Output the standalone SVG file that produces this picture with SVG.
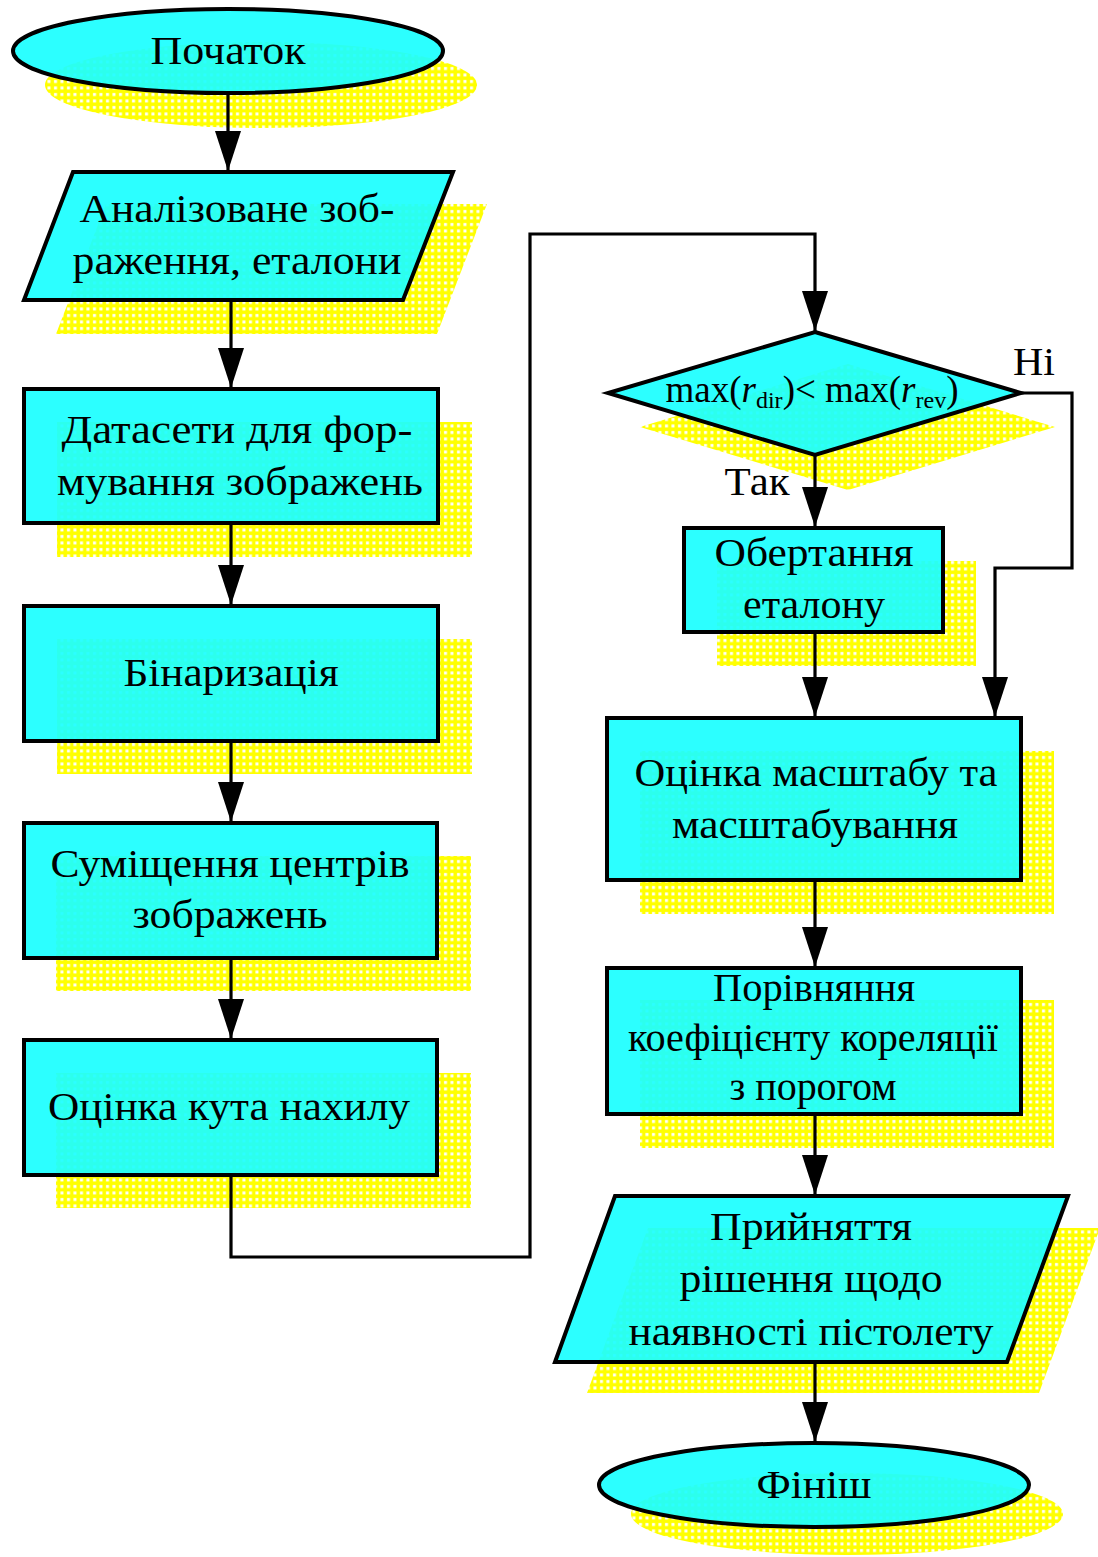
<svg xmlns="http://www.w3.org/2000/svg" width="1098" height="1557" viewBox="0 0 1098 1557">
  <defs>
    <pattern id="dots" width="6.5" height="6.5" patternUnits="userSpaceOnUse">
      <rect width="6.5" height="6.5" fill="#FFFF00"/>
      <rect x="2" y="2" width="3" height="3" fill="#FFFFFF"/>
    </pattern>
    <marker id="arrow" viewBox="0 0 40 26" refX="40" refY="13" markerWidth="40" markerHeight="26" markerUnits="userSpaceOnUse" orient="auto">
      <path d="M0,0 L40,13 L0,26 Z" fill="#000"/>
    </marker>
  </defs>
  <style>
    .shadow { fill: url(#dots); stroke: none; }
    .box { fill: #1CFFFF; fill-opacity: 0.93; stroke: #000; stroke-width: 4; stroke-linejoin: miter; }
    .lbl { font-family: "Liberation Serif", "DejaVu Serif", serif; font-size: 40px; fill: #000; text-anchor: middle; }
    .math { font-size: 37px; }
    .wire { fill: none; stroke: #000; stroke-width: 3.2; }
  </style>

  <rect width="1098" height="1557" fill="#FFFFFF"/>

  <!-- Left column -->
  <g id="start">
    <ellipse class="shadow" cx="261" cy="85" rx="216" ry="43"/>
    <ellipse class="box" cx="228" cy="51" rx="215" ry="42"/>
    <text class="lbl" x="228" y="64" textLength="155" lengthAdjust="spacingAndGlyphs">Початок</text>
  </g>

  <g id="input-images">
    <polygon class="shadow" points="106,204 487,204 437,334 56,334"/>
    <polygon class="box" points="73,172 453,172 403,300 24,300"/>
    <text class="lbl" x="237" y="222" textLength="315" lengthAdjust="spacingAndGlyphs">Аналізоване зоб-</text>
    <text class="lbl" x="237" y="274" textLength="329" lengthAdjust="spacingAndGlyphs">раження, еталони</text>
  </g>

  <g id="datasets">
    <rect class="shadow" x="57" y="422" width="415" height="135"/>
    <rect class="box" x="24" y="389" width="414" height="134"/>
    <text class="lbl" x="237" y="443" textLength="351" lengthAdjust="spacingAndGlyphs">Датасети для фор-</text>
    <text class="lbl" x="240" y="495" textLength="366" lengthAdjust="spacingAndGlyphs">мування зображень</text>
  </g>

  <g id="binarization">
    <rect class="shadow" x="57" y="639" width="415" height="135"/>
    <rect class="box" x="24" y="606" width="414" height="135"/>
    <text class="lbl" x="231" y="686" textLength="215" lengthAdjust="spacingAndGlyphs">Бінаризація</text>
  </g>

  <g id="center-align">
    <rect class="shadow" x="56" y="856" width="415" height="135"/>
    <rect class="box" x="24" y="823" width="413" height="135"/>
    <text class="lbl" x="230" y="877" textLength="359" lengthAdjust="spacingAndGlyphs">Суміщення центрів</text>
    <text class="lbl" x="230" y="928" textLength="195" lengthAdjust="spacingAndGlyphs">зображень</text>
  </g>

  <g id="tilt-angle">
    <rect class="shadow" x="56" y="1073" width="415" height="135"/>
    <rect class="box" x="24" y="1040" width="413" height="135"/>
    <text class="lbl" x="229" y="1120" textLength="362" lengthAdjust="spacingAndGlyphs">Оцінка кута нахилу</text>
  </g>

  <!-- Right column -->
  <g id="decision">
    <polygon class="shadow" points="848,364 1055,427 848,490 640,427"/>
    <polygon class="box" points="815,332 1021,393 815,455 608,393"/>
    <text class="lbl math" x="812" y="402">max(<tspan font-style="italic">r</tspan><tspan font-size="24px" dy="6">dir</tspan><tspan dy="-6">)&lt; max(</tspan><tspan font-style="italic">r</tspan><tspan font-size="24px" dy="6">rev</tspan><tspan dy="-6">)</tspan></text>
  </g>

  <g id="rotate-template">
    <rect class="shadow" x="717" y="561" width="259" height="105"/>
    <rect class="box" x="684" y="528" width="259" height="104"/>
    <text class="lbl" x="814" y="566" textLength="199" lengthAdjust="spacingAndGlyphs">Обертання</text>
    <text class="lbl" x="814" y="618" textLength="142" lengthAdjust="spacingAndGlyphs">еталону</text>
  </g>

  <g id="scaling">
    <rect class="shadow" x="640" y="751" width="414" height="163"/>
    <rect class="box" x="607" y="718" width="414" height="162"/>
    <text class="lbl" x="816" y="786" textLength="363" lengthAdjust="spacingAndGlyphs">Оцінка масштабу та</text>
    <text class="lbl" x="815" y="838" textLength="286" lengthAdjust="spacingAndGlyphs">масштабування</text>
  </g>

  <g id="correlation">
    <rect class="shadow" x="640" y="1000" width="414" height="148"/>
    <rect class="box" x="607" y="968" width="414" height="146"/>
    <text class="lbl" x="814" y="1001" textLength="202" lengthAdjust="spacingAndGlyphs">Порівняння</text>
    <text class="lbl" x="813" y="1051" textLength="370" lengthAdjust="spacingAndGlyphs">коефіцієнту кореляції</text>
    <text class="lbl" x="813" y="1100" textLength="167" lengthAdjust="spacingAndGlyphs">з порогом</text>
  </g>

  <g id="decision-output">
    <polygon class="shadow" points="648,1228 1100,1228 1039,1393 587,1393"/>
    <polygon class="box" points="615,1196 1068,1196 1007,1362 555,1362"/>
    <text class="lbl" x="811" y="1240" textLength="202" lengthAdjust="spacingAndGlyphs">Прийняття</text>
    <text class="lbl" x="811" y="1292" textLength="263" lengthAdjust="spacingAndGlyphs">рішення щодо</text>
    <text class="lbl" x="811" y="1345" textLength="365" lengthAdjust="spacingAndGlyphs">наявності пістолету</text>
  </g>

  <g id="finish">
    <ellipse class="shadow" cx="847" cy="1514" rx="216" ry="41"/>
    <ellipse class="box" cx="814" cy="1485" rx="215" ry="42"/>
    <text class="lbl" x="814" y="1498" textLength="115" lengthAdjust="spacingAndGlyphs">Фініш</text>
  </g>

  <!-- Connectors -->
  <g id="connectors">
    <line class="wire" x1="228" y1="94" x2="228" y2="171" marker-end="url(#arrow)"/>
    <line class="wire" x1="231" y1="300" x2="231" y2="388" marker-end="url(#arrow)"/>
    <line class="wire" x1="231" y1="523" x2="231" y2="605" marker-end="url(#arrow)"/>
    <line class="wire" x1="231" y1="741" x2="231" y2="822" marker-end="url(#arrow)"/>
    <line class="wire" x1="231" y1="958" x2="231" y2="1039" marker-end="url(#arrow)"/>
    <polyline class="wire" points="231,1175 231,1257 530,1257 530,234 815,234 815,331" marker-end="url(#arrow)"/>
    <line class="wire" x1="815" y1="455" x2="815" y2="527" marker-end="url(#arrow)"/>
    <polyline class="wire" points="1021,393 1072,393 1072,568 995,568 995,717" marker-end="url(#arrow)"/>
    <line class="wire" x1="815" y1="632" x2="815" y2="717" marker-end="url(#arrow)"/>
    <line class="wire" x1="815" y1="880" x2="815" y2="967" marker-end="url(#arrow)"/>
    <line class="wire" x1="815" y1="1114" x2="815" y2="1195" marker-end="url(#arrow)"/>
    <line class="wire" x1="815" y1="1362" x2="815" y2="1442" marker-end="url(#arrow)"/>
    <text class="lbl" x="1034" y="375" textLength="42" lengthAdjust="spacingAndGlyphs">Ні</text>
    <text class="lbl" x="757" y="495" textLength="65" lengthAdjust="spacingAndGlyphs">Так</text>
  </g>
</svg>
